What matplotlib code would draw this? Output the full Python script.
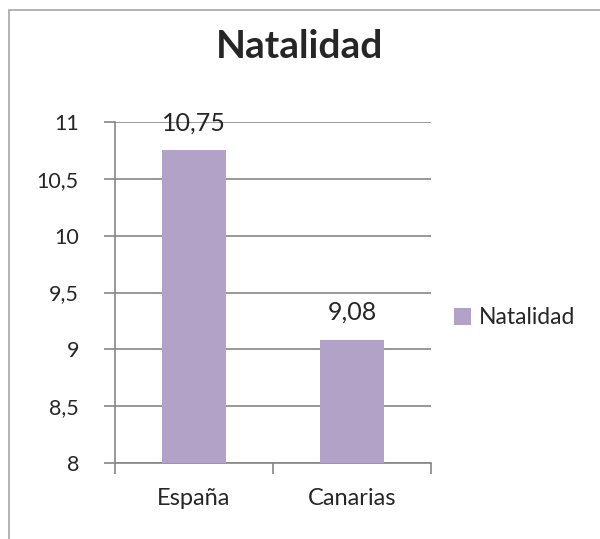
import matplotlib.pyplot as plt
from matplotlib.patches import Rectangle, Patch

categories = ['España', 'Canarias']
values = [10.75, 9.08]
value_labels = ['10,75', '9,08']
y_ticks = [8, 8.5, 9, 9.5, 10, 10.5, 11]
y_tick_labels = ['8', '8,5', '9', '9,5', '10', '10,5', '11']

plt.rcParams['font.family'] = ['Lato', 'DejaVu Sans']

bar_color = '#b3a2c7'
grid_color = '#868686'
text_color = '#262626'

fig = plt.figure(figsize=(6, 5.39), dpi=100)
# outer chart frame (only left/top visible in the picture)
fig.patches.append(Rectangle((9 / 600, -0.05), 1.2, 1 - 10 / 539 + 0.05,
                             transform=fig.transFigure, fill=False,
                             edgecolor='#a6a6a6', linewidth=1.2))

ax = fig.add_axes([115 / 600, 1 - 463 / 539, 316 / 600, 341 / 539])
x = range(len(categories))
bars = ax.bar(x, values, width=0.405, color=bar_color, zorder=3, bottom=0)
ax.set_xlim(-0.5, 1.5)
ax.set_ylim(8, 11)
ax.set_yticks(y_ticks)
ax.set_yticklabels(y_tick_labels)
ax.set_xticks(list(x))
ax.set_xticklabels(categories)
ax.set_xticks([-0.5, 0.5, 1.5], minor=True)

ax.yaxis.grid(True, color=grid_color, linewidth=1.2, zorder=0)
for s in ['top', 'right']:
    ax.spines[s].set_visible(False)
for s in ['left', 'bottom']:
    ax.spines[s].set_color(grid_color)
    ax.spines[s].set_linewidth(1.2)

ax.tick_params(axis='y', direction='out', length=8, width=1.2, color=grid_color,
               labelsize=15.5, labelcolor=text_color, pad=18)
ax.tick_params(axis='x', which='major', length=0, labelsize=17,
               labelcolor=text_color, pad=18)
ax.tick_params(axis='x', which='minor', direction='out', length=8, width=1.2,
               color=grid_color)

for xi, v, lab in zip(x, values, value_labels):
    ax.annotate(lab, (xi, v), xytext=(0, 20), textcoords='offset points',
                ha='center', va='center', fontsize=18, color=text_color,
                annotation_clip=False)

fig.text(300 / 600, 1 - 47 / 539, 'Natalidad', ha='center', va='center',
         fontsize=28, fontweight='bold', color=text_color)

fig.legend(handles=[Patch(facecolor=bar_color, label='Natalidad')],
           loc='center left', bbox_to_anchor=(447 / 600, 1 - 318 / 539),
           frameon=False, fontsize=16.5, handlelength=0.75, handleheight=0.75,
           handletextpad=0.35, borderpad=0, borderaxespad=0.3,
           labelcolor=text_color)

fig.savefig('out.png', dpi=100)
